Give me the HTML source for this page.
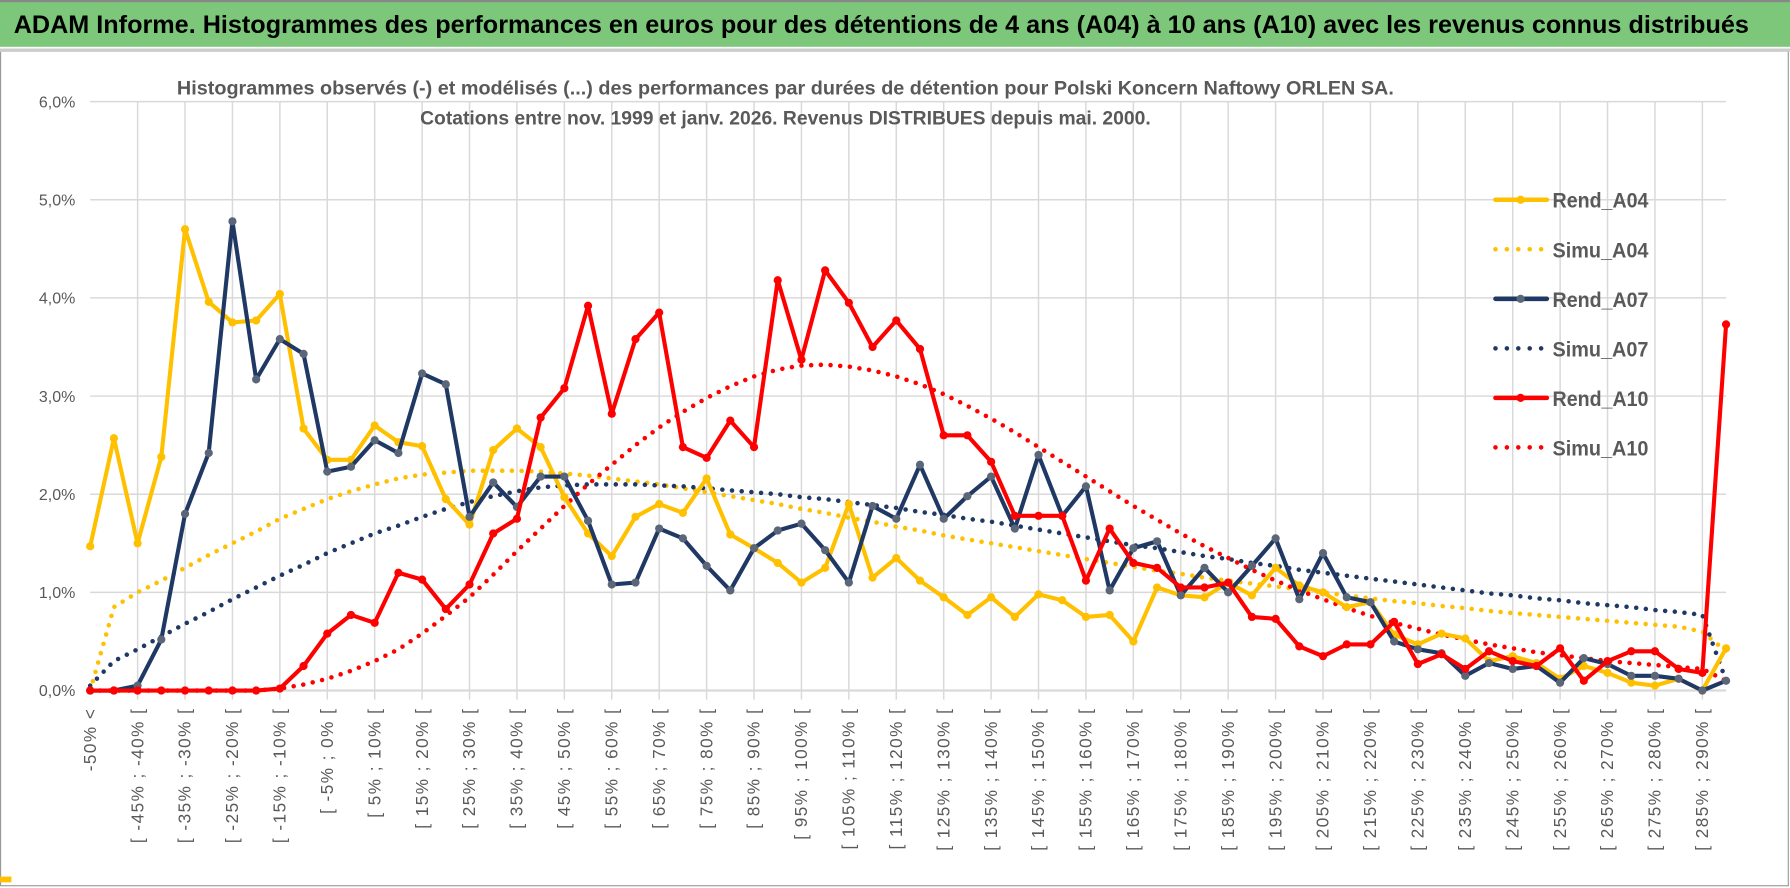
<!DOCTYPE html>
<html><head><meta charset="utf-8">
<style>
html,body{margin:0;padding:0;background:#fff;}
svg{display:block;}
text{font-family:"Liberation Sans",sans-serif;}
</style></head>
<body>
<svg id="chart" width="1790" height="888" viewBox="0 0 1568 778" preserveAspectRatio="none" xmlns="http://www.w3.org/2000/svg">
  <rect x="0" y="0" width="1568" height="778" fill="#fff"/>
  <rect x="0" y="0" width="1568" height="41" fill="#7DC77B"/>
  <line x1="0" y1="1" x2="1568" y2="1" stroke="#888" stroke-width="2"/>
  <text x="12" y="29" font-size="22" font-weight="bold" fill="#000" textLength="1520" lengthAdjust="spacingAndGlyphs">ADAM Informe. Histogrammes des performances en euros pour des détentions de 4 ans (A04) à 10 ans (A10) avec les revenus connus distribués</text>
  <rect x="0.5" y="44" width="1566" height="732" fill="none" stroke="#999" stroke-width="1"/>
  <line x1="0" y1="44" x2="1568" y2="44" stroke="#ccc" stroke-width="3"/>
  <rect x="0" y="768" width="10" height="5" fill="#FFC000"/>
  <g id="grid"></g>
  <g id="ylabels"></g>
  <g id="xlabels"></g>
  <text x="688" y="83" font-size="17" font-weight="bold" fill="#595959" text-anchor="middle" textLength="1066" lengthAdjust="spacingAndGlyphs">Histogrammes observés (-) et modélisés (...) des performances par durées de détention pour Polski Koncern Naftowy ORLEN SA.</text>
  <text x="688" y="109" font-size="17" font-weight="bold" fill="#595959" text-anchor="middle" textLength="640" lengthAdjust="spacingAndGlyphs">Cotations entre nov. 1999 et janv. 2026. Revenus DISTRIBUES depuis mai. 2000.</text>
  <g id="series"></g>
  <g id="legend"></g>
</svg>
<script>
const categories = ["-50% <"];
for (let k = 1; k < 70; k++) { categories.push("[ " + (-55 + 5 * k) + "% ; " + (-50 + 5 * k) + "% ["); }
const yTicks = [0, 1, 2, 3, 4, 5, 6];
const yTickLabels = ["0,0%", "1,0%", "2,0%", "3,0%", "4,0%", "5,0%", "6,0%"];
const rendA04 = [1.47,2.57,1.50,2.38,4.70,3.96,3.75,3.77,4.04,2.67,2.35,2.35,2.70,2.53,2.49,1.95,1.69,2.45,2.67,2.48,1.97,1.60,1.37,1.77,1.90,1.81,2.16,1.59,1.45,1.30,1.10,1.25,1.90,1.15,1.35,1.12,0.95,0.77,0.95,0.75,0.98,0.92,0.75,0.77,0.50,1.05,0.97,0.95,1.10,0.97,1.25,1.07,1.00,0.85,0.90,0.57,0.47,0.58,0.53,0.30,0.35,0.28,0.12,0.25,0.18,0.08,0.05,0.12,0.00,0.43];
const simuA04 = [0,0.85,1.0,1.12,1.25,1.38,1.5,1.62,1.75,1.85,1.95,2.03,2.1,2.16,2.2,2.22,2.24,2.24,2.24,2.23,2.21,2.19,2.16,2.13,2.1,2.06,2.02,1.98,1.94,1.9,1.85,1.81,1.76,1.72,1.67,1.63,1.58,1.54,1.5,1.46,1.42,1.38,1.34,1.3,1.26,1.22,1.19,1.15,1.12,1.09,1.06,1.03,1.0,0.97,0.94,0.91,0.89,0.86,0.84,0.81,0.79,0.77,0.75,0.73,0.71,0.69,0.67,0.65,0.6,0.4];
const rendA07 = [0,0,0.05,0.52,1.80,2.42,4.78,3.17,3.58,3.43,2.23,2.28,2.55,2.42,3.23,3.12,1.77,2.12,1.87,2.18,2.18,1.73,1.08,1.10,1.65,1.55,1.27,1.02,1.45,1.63,1.70,1.43,1.10,1.88,1.75,2.30,1.75,1.98,2.18,1.65,2.40,1.78,2.08,1.02,1.45,1.52,0.97,1.25,1.00,1.27,1.55,0.93,1.40,0.95,0.90,0.50,0.42,0.38,0.15,0.28,0.22,0.25,0.08,0.33,0.27,0.15,0.15,0.12,0.00,0.10];
const simuA07 = [0.05,0.3,0.42,0.55,0.68,0.8,0.93,1.05,1.17,1.28,1.4,1.5,1.6,1.68,1.77,1.85,1.92,1.98,2.03,2.07,2.09,2.1,2.1,2.1,2.09,2.08,2.06,2.04,2.02,2.0,1.97,1.95,1.92,1.89,1.86,1.82,1.79,1.75,1.72,1.68,1.64,1.6,1.56,1.52,1.48,1.45,1.41,1.37,1.34,1.3,1.27,1.23,1.2,1.17,1.14,1.11,1.08,1.05,1.02,0.99,0.97,0.94,0.92,0.89,0.87,0.85,0.82,0.8,0.77,0.1];
const rendA10 = [0,0,0,0,0,0,0,0,0.02,0.25,0.58,0.77,0.69,1.20,1.13,0.83,1.08,1.60,1.75,2.78,3.08,3.92,2.82,3.58,3.85,2.48,2.37,2.75,2.48,4.18,3.37,4.28,3.95,3.50,3.77,3.48,2.60,2.60,2.33,1.78,1.78,1.78,1.12,1.65,1.30,1.25,1.05,1.05,1.10,0.75,0.73,0.45,0.35,0.47,0.47,0.70,0.27,0.37,0.22,0.40,0.30,0.25,0.43,0.10,0.30,0.40,0.40,0.22,0.18,3.73];
const simuA10 = [0,0,0,0,0,0,0,0,0.02,0.06,0.12,0.2,0.3,0.42,0.58,0.76,0.95,1.18,1.42,1.65,1.88,2.1,2.3,2.5,2.68,2.84,2.98,3.1,3.2,3.27,3.31,3.32,3.3,3.26,3.2,3.12,3.02,2.9,2.77,2.63,2.48,2.33,2.18,2.03,1.88,1.74,1.6,1.47,1.35,1.23,1.12,1.02,0.93,0.84,0.76,0.69,0.63,0.57,0.52,0.47,0.43,0.39,0.36,0.33,0.3,0.28,0.26,0.24,0.22,0.1];

const NS = "http://www.w3.org/2000/svg";
const X0 = 79, X1 = 1512, Y0 = 605, YTOP = 89;
function xPos(i) { return X0 + (X1 - X0) * i / (categories.length - 1); }
function yPos(v) { return Y0 - (Y0 - YTOP) * v / 6; }
function mk(tag, attrs, parent) { const e = document.createElementNS(NS, tag); for (const k in attrs) e.setAttribute(k, attrs[k]); parent.appendChild(e); return e; }

const grid = document.getElementById("grid");
yTicks.forEach(t => {
  const l = mk("line", {x1: X0, x2: X1, y1: yPos(t), y2: yPos(t), stroke: "#d9d9d9", "stroke-width": 1.3}, grid);
  
  
});
for (let i = 2; i < categories.length; i += 2) {
  const l = mk("line", {x1: xPos(i), x2: xPos(i), y1: YTOP, y2: Y0 + 8, stroke: "#d9d9d9", "stroke-width": 1.3}, grid);
  
  
}
mk("line", {x1: X0, x2: X1, y1: Y0, y2: Y0, stroke: "#d9d9d9", "stroke-width": 2}, grid);

const yl = document.getElementById("ylabels");
yTicks.forEach((t, i) => {
  const tx = mk("text", {x: 66, y: yPos(t) + 5, "font-size": 14, fill: "#595959", "text-anchor": "end"}, yl);
  tx.textContent = yTickLabels[i];
  
  
});
const xl = document.getElementById("xlabels");
for (let i = 0; i < categories.length; i += 2) {
  const x = xPos(i) + 5, y = 620;
  const tx = mk("text", {x: x, y: y, "font-size": 15, fill: "#595959", "text-anchor": "end", "letter-spacing": "1.3", transform: "rotate(-90 " + x + " " + y + ")"}, xl);
  tx.textContent = categories[i];
  
  
}

const series = document.getElementById("series");
function pts(arr) { return arr.map((v, i) => xPos(i).toFixed(1) + "," + yPos(v).toFixed(1)).join(" "); }
function dotted(arr, color, name) {
  const p = mk("polyline", {points: pts(arr), fill: "none", stroke: color, "stroke-width": 4, "stroke-linecap": "round", "stroke-dasharray": "0 8.5"}, series);
  
  
}
function solid(arr, color, mcolor, name) {
  const g = mk("g", {}, series);
  
  
  mk("polyline", {points: pts(arr), fill: "none", stroke: color, "stroke-width": 3.6, "stroke-linejoin": "round"}, g);
  arr.forEach((v, i) => {
    const c = mk("circle", {cx: xPos(i), cy: yPos(v), r: 3.6, fill: mcolor}, g);
    
    
  });
}
dotted(simuA04, "#FFC000", "simu-a04-line");
dotted(simuA07, "#1F3864", "simu-a07-line");
dotted(simuA10, "#FF0000", "simu-a10-line");
solid(rendA04, "#FFC000", "#FFC000", "rend-a04-line");
solid(rendA07, "#1F3864", "#5B6678", "rend-a07-line");
solid(rendA10, "#FF0000", "#FF0000", "rend-a10-line");

const legendNames = ["Rend_A04", "Simu_A04", "Rend_A07", "Simu_A07", "Rend_A10", "Simu_A10"];
const legendColors = ["#FFC000", "#FFC000", "#1F3864", "#1F3864", "#FF0000", "#FF0000"];
const lg = document.getElementById("legend");
legendNames.forEach((n, i) => {
  const y = 175 + i * 43.4;
  const g = mk("g", {}, lg);
  
  
  if (n.startsWith("Rend")) {
    mk("line", {x1: 1310, x2: 1355, y1: y, y2: y, stroke: legendColors[i], "stroke-width": 4, "stroke-linecap": "round"}, g);
    mk("circle", {cx: 1332, cy: y, r: 3.6, fill: i === 2 ? "#5B6678" : legendColors[i]}, g);
  } else {
    mk("line", {x1: 1310, x2: 1355, y1: y, y2: y, stroke: legendColors[i], "stroke-width": 4, "stroke-linecap": "round", "stroke-dasharray": "0 10"}, g);
  }
  const t = mk("text", {x: 1360, y: y + 7, "font-size": 19, "font-weight": "bold", fill: "#595959", textLength: 84, lengthAdjust: "spacingAndGlyphs"}, g);
  t.textContent = n;
});
</script>
</body></html>
